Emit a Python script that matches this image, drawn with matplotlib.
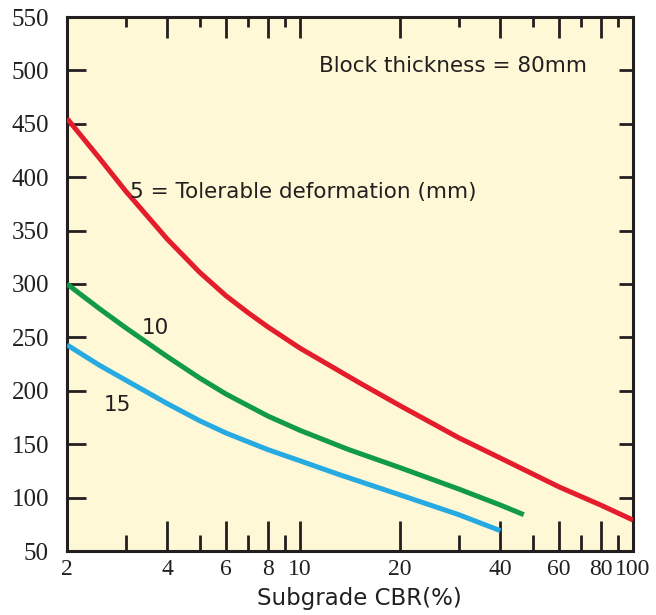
import matplotlib.pyplot as plt
from matplotlib.ticker import FixedLocator, NullFormatter, FixedFormatter

# values (x = subgrade CBR %, y = thickness)
cbr_5 = [2, 2.5, 3, 4, 5, 6, 7, 8, 10, 15, 20, 30, 40, 60, 80, 100]
thk_5 = [455, 418, 387, 342, 311, 289, 273, 260, 240, 208, 186, 156, 137, 110, 93, 79]

cbr_10 = [2, 2.5, 3, 4, 5, 6, 7, 8, 10, 14, 20, 30, 40, 47]
thk_10 = [300, 277, 259, 232, 212, 197, 186, 176.5, 163, 145, 128, 108, 93, 84]

cbr_15 = [2, 2.5, 3, 4, 5, 6, 8, 10, 13, 20, 30, 40]
thk_15 = [243, 224, 210, 188, 172, 160.5, 145, 134.5, 122, 102.5, 84, 69]

x_major = [2, 4, 6, 8, 10, 20, 40, 60, 80, 100]
x_minor = [3, 5, 7, 9, 30, 50, 70, 90]
x_labels = ['2', '4', '6', '8', '10', '20', '40', '60', '80', '100']
y_ticks = [100, 150, 200, 250, 300, 350, 400, 450, 500]
y_labels = [50, 100, 150, 200, 250, 300, 350, 400, 450, 500, 550]

bg = '#fff8d6'
ink = '#231f20'

fig = plt.figure(figsize=(6.56, 6.15), dpi=100)
pos = [67 / 656, 1 - 551 / 615, (633 - 67) / 656, (551 - 17) / 615]
ax = fig.add_axes(pos)
ax.set_facecolor(bg)

ax.plot(cbr_5, thk_5, color='#e31d2b', lw=3.6, solid_capstyle='butt', zorder=3)
ax.plot(cbr_10, thk_10, color='#119a48', lw=3.6, solid_capstyle='butt', zorder=3)
ax.plot(cbr_15, thk_15, color='#26aae1', lw=3.6, solid_capstyle='butt', zorder=3)

ax.set_xscale('log')
ax.set_xlim(2, 100)
ax.set_ylim(50, 550)

ax.xaxis.set_major_locator(FixedLocator(x_major))
ax.xaxis.set_major_formatter(FixedFormatter(x_labels))
ax.xaxis.set_minor_locator(FixedLocator(x_minor))
ax.xaxis.set_minor_formatter(NullFormatter())
ax.set_yticks(y_labels)

ax.tick_params(axis='y', which='major', labelsize=18, labelcolor=ink,
               labelfontfamily='Liberation Serif')
ax.tick_params(axis='x', which='major', labelsize=17, labelcolor=ink,
               labelfontfamily='Liberation Serif')
ax.tick_params(axis='x', which='major', direction='in', length=21.5, width=2,
               color=ink, pad=6, top=False)
ax.tick_params(axis='x', which='minor', direction='in', length=11.5, width=2,
               color=ink, top=False)
ax.tick_params(axis='y', direction='in', length=13.5, width=2, color=ink,
               pad=13, right=False)

for sp in ax.spines.values():
    sp.set_linewidth(2.2)
    sp.set_color(ink)

# overlay for the shorter top and right ticks
ov = fig.add_axes(pos, frameon=False)
ov.set_xscale('log')
ov.set_xlim(2, 100)
ov.set_ylim(50, 550)
ov.xaxis.set_major_locator(FixedLocator(x_major))
ov.xaxis.set_minor_locator(FixedLocator(x_minor))
ov.xaxis.set_minor_formatter(NullFormatter())
ov.set_yticks(y_ticks)
ov.tick_params(axis='x', which='major', direction='in', length=15, width=2,
               color=ink, top=True, bottom=False, labeltop=False, labelbottom=False)
ov.tick_params(axis='x', which='minor', direction='in', length=7.5, width=2,
               color=ink, top=True, bottom=False, labeltop=False, labelbottom=False)
ov.tick_params(axis='y', direction='in', length=10, width=2, color=ink,
               right=True, left=False, labelright=False, labelleft=False)

ax.set_xlabel('Subgrade CBR(%)', fontsize=16.5, color=ink, labelpad=5, x=0.517)

ax.text(11.4, 504, 'Block thickness = 80mm', fontsize=15.5, color=ink, va='center')
ax.text(3.09, 386, '5 = Tolerable deformation (mm)', fontsize=15.5, color=ink, va='center')
ax.text(3.36, 259, '10', fontsize=15.5, color=ink, va='center')
ax.text(2.57, 187, '15', fontsize=15.5, color=ink, va='center')

fig.savefig('out.png', dpi=100)
